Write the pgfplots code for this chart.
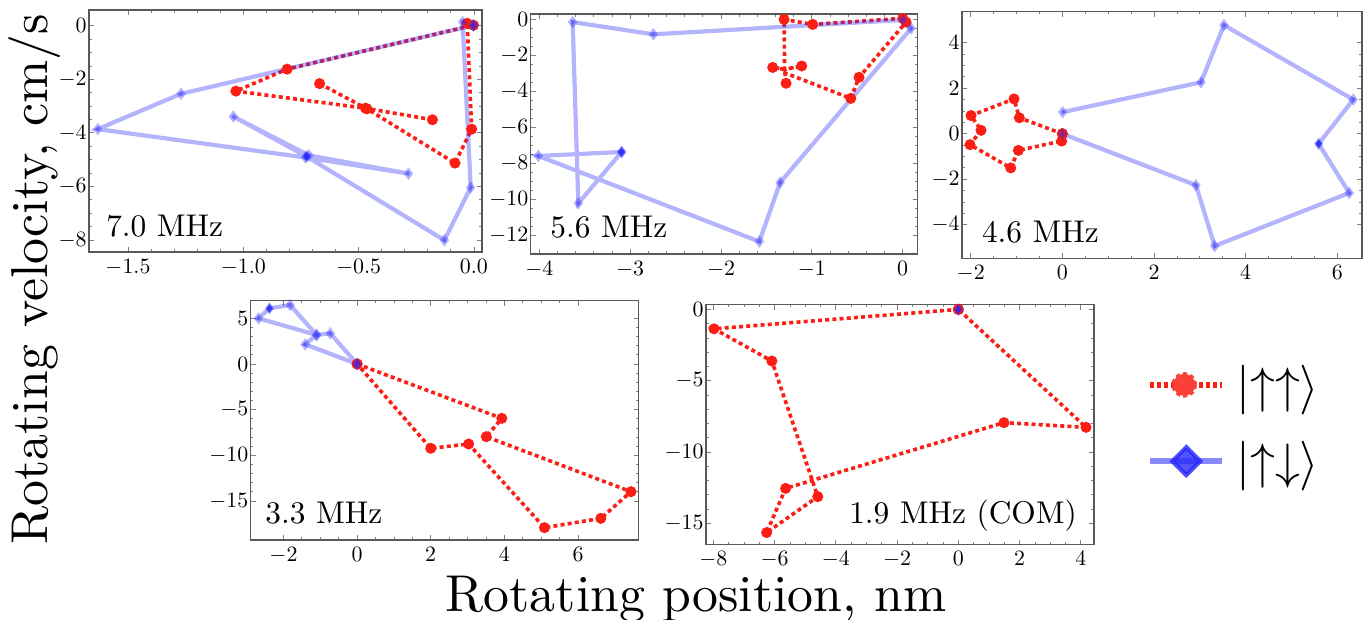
\documentclass[border=0pt]{standalone}
\usepackage{fontspec}
\setmainfont{lmroman10-regular}[Extension=.otf]
\usepackage{pgfplots}
\pgfplotsset{compat=1.18}

\definecolor{upup}{RGB}{250,30,20}
\definecolor{updn}{RGB}{40,40,250}

\tikzset{lab/.style={font=\fontsize{15.7}{18}\selectfont, inner sep=0pt}}
\pgfplotsset{
  panel/.style={
    scale only axis, anchor=north west,
    axis line style={draw=black!65, line width=0.7pt},
    tick style={draw=black!50, line width=0.4pt},
    major tick length=2.5pt, minor tick length=1.3pt,
    tick label style={font=\fontsize{11}{13}\selectfont},
    yticklabel style={inner xsep=1pt},
  },
  upup/.style={color=upup, line width=1.8pt, dash pattern=on 2pt off 1.6pt,
    mark=*, mark size=1.8pt, mark options={solid, draw=none, fill=upup}},
  updn/.style={color=updn, opacity=0.35, line width=2.1pt,
    mark=diamond*, mark size=1.4pt, mark options={solid, draw=none, fill=updn}},
  dark/.style={forget plot, only marks, color=updn, opacity=0.75,
    mark=diamond*, mark size=1.8pt, mark options={draw=none, fill=updn}},
}

\begin{document}
\begin{tikzpicture}
\path[use as bounding box] (0,0) rectangle (684.5pt,-310pt);

% 7.0 MHz
\begin{axis}[panel, at={(44.5pt,-5pt)}, width=196.5pt, height=121pt,
  xmin=-1.669, xmax=0.035, ymin=-8.45, ymax=0.59,
  xtick={-1.5,-1,-0.5,0}, ytick={-8,-6,-4,-2,0},
  minor x tick num=4, minor y tick num=3,
  xticklabel style={/pgf/number format/.cd, fixed, fixed zerofill, precision=1}]
\addplot[upup] coordinates {(-0.669,-2.16) (-0.464,-3.10) (-0.082,-5.13) (-0.010,-3.86) (-0.029,0.09) (-0.002,0.02) (-0.810,-1.62) (-1.032,-2.44) (-0.470,-3.08) (-0.180,-3.51)};
\addplot[updn] coordinates {(-0.002,0.02) (-0.049,0.14) (-0.014,-6.04) (-0.128,-8.01) (-0.726,-4.88) (-1.043,-3.39) (-0.716,-4.84) (-0.284,-5.52) (-0.730,-4.92) (-1.631,-3.86) (-1.270,-2.54) (-0.002,0.02)};
\addplot[dark] coordinates {(-0.726,-4.88)};
\node[lab, anchor=base west] at (rel axis cs:0.043,0.062) {7.0 MHz};
\end{axis}

% 5.6 MHz
\begin{axis}[panel, at={(265.35pt,-7pt)}, width=193.5pt, height=120pt,
  xmin=-4.095, xmax=0.165, ymin=-13.06, ymax=0.28,
  xtick={-4,-3,-2,-1,0}, ytick={-12,-10,-8,-6,-4,-2,0},
  minor x tick num=4, minor y tick num=3]
\addplot[upup, mark indices={1,3,5,7,8,9,10,11,12}] coordinates {(-1.284,-3.57) (-1.300,-2.80) (-1.431,-2.69) (-1.300,-2.80) (-1.112,-2.61) (-1.300,-2.80) (-1.306,-0.02) (-0.991,-0.30) (0.000,0.04) (0.037,-0.17) (-0.481,-3.24) (-0.572,-4.41) (-1.330,-2.93)};
\addplot[updn] coordinates {(-3.094,-7.39) (-4.011,-7.61) (-1.578,-12.37) (-1.350,-9.09) (0.092,-0.52) (0.000,-0.05) (-2.745,-0.85) (-3.633,-0.17) (-3.571,-10.24) (-3.094,-7.39)};
\addplot[dark] coordinates {(-3.094,-7.39)};
\node[lab, anchor=base west] at (rel axis cs:0.05,0.07) {5.6 MHz};
\end{axis}

% 4.6 MHz
\begin{axis}[panel, at={(481pt,-5.85pt)}, width=200pt, height=123.3pt,
  xmin=-2.19, xmax=6.54, ymin=-5.47, ymax=5.36,
  xtick={-2,0,2,4,6}, ytick={-4,-2,0,2,4},
  minor x tick num=3, minor y tick num=3]
\addplot[upup] coordinates {(0,0) (-0.938,0.70) (-1.055,1.53) (-1.993,0.80) (-1.775,0.15) (-2.015,-0.48) (-1.127,-1.50) (-0.960,-0.73) (-0.015,-0.32) (0,0)};
\addplot[updn] coordinates {(0.007,0.95) (3.025,2.26) (3.527,4.77) (6.349,1.50) (5.593,-0.44) (6.262,-2.60) (3.324,-4.93) (2.916,-2.26) (0,0)};
\addplot[dark] coordinates {(5.593,-0.44)};
\node[lab, anchor=base west] at (rel axis cs:0.049,0.065) {4.6 MHz};
\end{axis}

% 3.3 MHz
\begin{axis}[panel, at={(125.35pt,-150.35pt)}, width=194pt, height=119.65pt,
  xmin=-2.89, xmax=7.65, ymin=-19.27, ymax=6.93,
  xtick={-2,0,2,4,6}, ytick={-15,-10,-5,0,5},
  minor x tick num=3, minor y tick num=4]
\addplot[upup] coordinates {(0,0) (3.93,-5.95) (3.51,-7.96) (7.44,-13.98) (6.62,-16.90) (5.09,-17.92) (3.03,-8.76) (2.00,-9.23) (0,0)};
\addplot[updn] coordinates {(0,0) (-1.41,2.15) (-1.10,3.18) (-2.68,5.00) (-2.38,6.09) (-1.82,6.46) (-1.10,3.18) (-0.73,3.36) (0,0)};
\addplot[dark] coordinates {(-2.38,6.09)};
\node[lab, anchor=base west] at (rel axis cs:0.037,0.07) {3.3 MHz};
\end{axis}

% 1.9 MHz (COM)
\begin{axis}[panel, at={(353pt,-152.35pt)}, width=194pt, height=120pt,
  xmin=-8.24, xmax=4.43, ymin=-16.5, ymax=0.33,
  xtick={-8,-6,-4,-2,0,2,4}, ytick={-15,-10,-5,0},
  minor x tick num=3, minor y tick num=4,
  legend style={at={(1.1355,0.507)}, anchor=west, draw=none, fill=none,
    font=\fontsize{24}{28}\selectfont, row sep=14pt, inner sep=0pt},
  legend cell align=left]
\addplot[upup, legend image code/.code={
    \draw[upup, solid, line width=3.3pt, dash pattern=on 2pt off 1.5pt] (0pt,0pt) -- (36pt,0pt);
    \fill[upup!85!white] (17pt,0pt) circle (5.5pt);
    \path (40pt,0pt);}]
  coordinates {(0,0) (-7.98,-1.36) (-6.09,-3.62) (-4.59,-13.13) (-6.26,-15.65) (-5.64,-12.55) (1.49,-7.94) (4.17,-8.27) (0,0)};
\addlegendentry{$|{\uparrow\uparrow}\rangle$}
\addplot[updn, legend image code/.code={
    \draw[updn, opacity=0.55, line width=3.3pt] (0pt,0pt) -- (36pt,0pt);
    \fill[updn, opacity=0.8] (18pt,7pt) -- (25pt,0pt) -- (18pt,-7pt) -- (11pt,0pt) -- cycle;
    \path (40pt,0pt);}]
  coordinates {(0,0)};
\addlegendentry{$|{\uparrow\downarrow}\rangle$}
\addplot[dark] coordinates {(0,0)};
\node[lab, anchor=base east] at (rel axis cs:0.957,0.089) {1.9 MHz (COM)};
\end{axis}

\node[rotate=90, anchor=base, font=\fontsize{25.9}{30}\selectfont] at (23.5pt,-139.5pt) {Rotating velocity, cm/s};
\node[anchor=base, font=\fontsize{25.9}{30}\selectfont] at (348pt,-305.5pt) {Rotating position, nm};
\end{tikzpicture}
\end{document}
